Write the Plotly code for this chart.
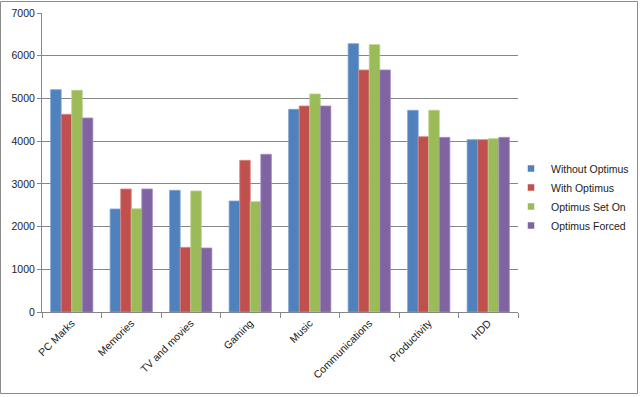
import plotly.graph_objects as go

categories = ["PC Marks", "Memories", "TV and movies", "Gaming", "Music",
              "Communications", "Productivity", "HDD"]
series_names = ["Without Optimus", "With Optimus", "Optimus Set On", "Optimus Forced"]
without_optimus = [5205, 2412, 2849, 2599, 4745, 6283, 4722, 4035]
with_optimus = [4628, 2880, 1514, 3551, 4823, 5666, 4105, 4035]
optimus_set_on = [5190, 2415, 2833, 2583, 5104, 6259, 4722, 4058]
optimus_forced = [4542, 2880, 1498, 3692, 4823, 5666, 4089, 4089]
colors = ["#4F81BD", "#C0504D", "#9BBB59", "#8064A2"]
edge_colors = ["#7FA3D3", "#D88583", "#B9D08A", "#A28CC0"]

W, H = 640, 397
L, R, T, B = 42, 122, 13, 85

fig = go.Figure()
for name, vals, c, ec in zip(series_names,
                             [without_optimus, with_optimus, optimus_set_on, optimus_forced],
                             colors, edge_colors):
    fig.add_trace(go.Bar(x=categories, y=vals, name=name, showlegend=False,
                         marker=dict(color=c, line=dict(color=ec, width=0.8))))
# legend entries with small square swatches
for name, c in zip(series_names, colors):
    fig.add_trace(go.Scatter(x=[None], y=[None], mode="markers", name=name,
                             marker=dict(symbol="square", size=7, color=c,
                                         line=dict(color="white", width=0.5))))

pw = W - L - R
ph = H - T - B
fig.add_shape(type="rect", xref="paper", yref="paper",
              x0=(0.5 - L) / pw, x1=(W - 2.5 - L) / pw,
              y0=(H - 393.5 - B) / ph, y1=(H - 1.5 - B) / ph,
              line=dict(color="#8C8C8C", width=1), layer="below")

fig.update_layout(
    width=W, height=H,
    margin=dict(l=L, r=R, t=T, b=B, pad=0, autoexpand=False),
    paper_bgcolor="white", plot_bgcolor="white",
    barmode="group", bargap=0.29, bargroupgap=0,
    font=dict(family="Liberation Sans", size=10.5, color="#222222"),
    showlegend=True,
    legend=dict(x=(511 - L) / pw, xanchor="left", y=(H - 197 - B) / ph, yanchor="middle",
                font=dict(size=10.5, color="#222222"),
                itemwidth=30, tracegroupgap=0, bgcolor="rgba(0,0,0,0)"),
    xaxis=dict(showline=True, linecolor="#868686", linewidth=1, automargin=False,
               ticks="outside", tickson="boundaries", ticklen=5, tickcolor="#868686",
               tickangle=-45, showgrid=False, zeroline=False),
    yaxis=dict(range=[0, 7000], dtick=1000, showline=True, linecolor="#868686",
               linewidth=1, ticks="outside", ticklen=4, tickcolor="#868686",
               showgrid=True, gridcolor="#868686", gridwidth=1, zeroline=False,
               automargin=False),
)

fig.write_html("out.html", config={"displayModeBar": False},
               post_script="document.body.style.margin='0';")
